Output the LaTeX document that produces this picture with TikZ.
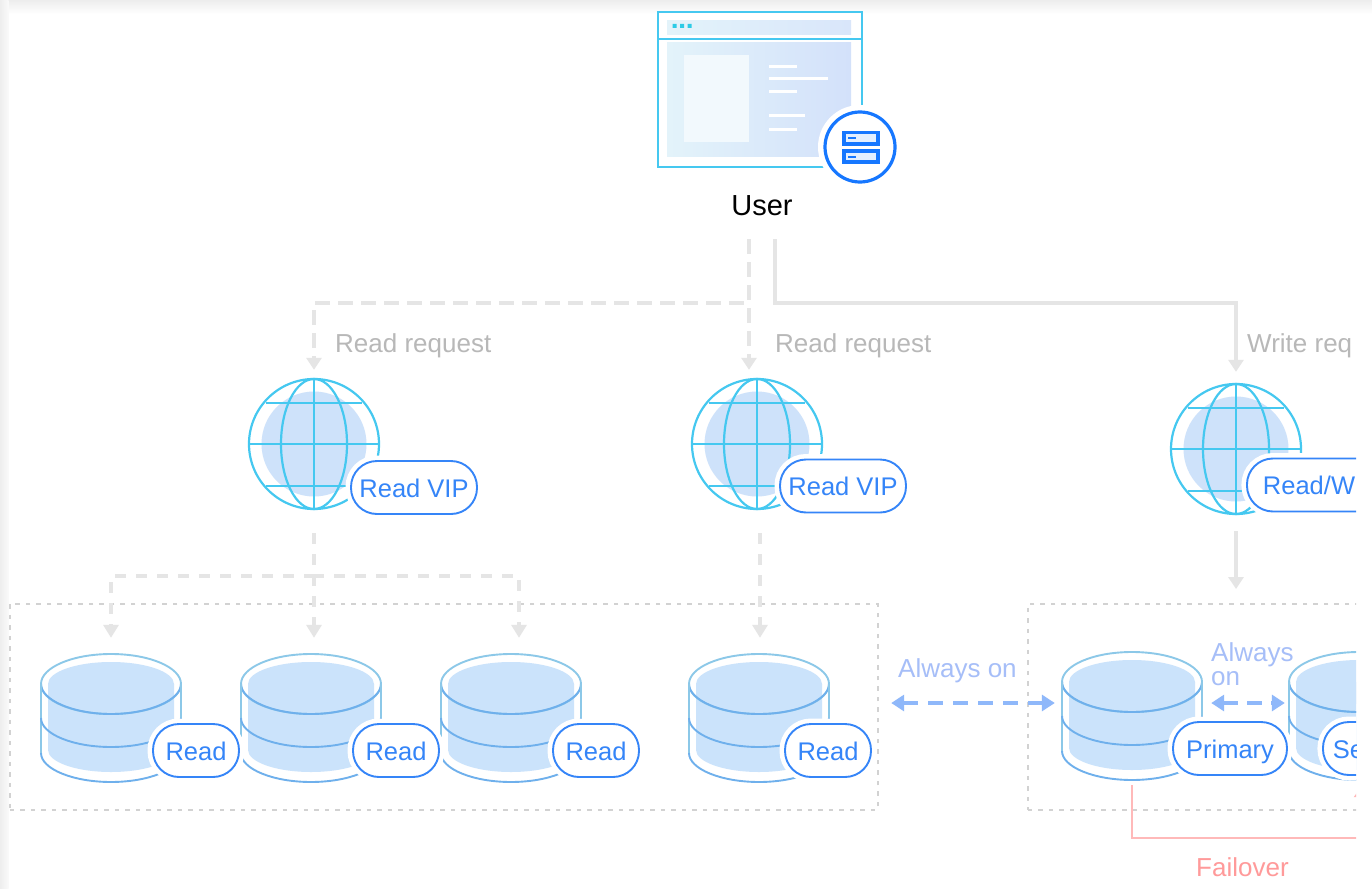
\documentclass[tikz,border=0pt]{standalone}
\usepackage{fontspec}
\setmainfont{Liberation Sans}
\usetikzlibrary{arrows.meta,shapes.geometric}
\definecolor{cyanl}{HTML}{45C8F0}
\definecolor{bluel}{HTML}{1677FF}
\definecolor{pilltx}{HTML}{3585F8}
\definecolor{dbfill}{HTML}{CBE3FB}
\definecolor{dbline}{HTML}{8CC8E8}
\definecolor{dbmid}{HTML}{6FB0EC}
\definecolor{glfill}{HTML}{CEE2FA}
\definecolor{graya}{HTML}{E5E5E5}
\definecolor{graytx}{HTML}{B8B8B8}
\definecolor{boxd}{HTML}{D2D2D2}
\definecolor{alw}{HTML}{8FB8FA}
\definecolor{alwtx}{HTML}{A6BEF8}
\definecolor{redl}{HTML}{FFB9B9}
\definecolor{redtx}{HTML}{FF9A9A}
\definecolor{brA}{HTML}{E3F3FA}
\definecolor{brB}{HTML}{D9E6FA}
\definecolor{brC}{HTML}{D3E1FA}
\definecolor{brP}{HTML}{F2F9FD}
\definecolor{brD}{HTML}{2CCBE6}
\tikzset{
  pill/.style={draw=pilltx,line width=1.9pt,fill=white,rounded corners=26pt,text=pilltx,font=\fontsize{25.5}{25.5}\selectfont,inner sep=0pt,minimum height=53pt,text height=19.5pt,text depth=0pt,preaction={draw=white,line width=11pt}},
  longpill/.style={pill,anchor=west,align=left,text width=#1},
  anchorbox/.style={inner sep=0pt,minimum size=#1},
  reqdash/.style={draw=graya,line width=3.4pt,dash pattern=on 15pt off 8pt,-{Triangle[length=12pt,width=15pt,fill=graya]}},
  treedash/.style={draw=graya,line width=3.4pt,dash pattern=on 11pt off 10pt,-{Triangle[length=13pt,width=15pt,fill=graya]}},
  reqsolid/.style={draw=graya,line width=3.6pt,-{Triangle[length=12pt,width=15pt,fill=graya]}},
  reqlabel/.style={text=graytx,font=\fontsize{26}{26}\selectfont,anchor=west,inner sep=0pt},
  groupbox/.style={draw=boxd,line width=1.8pt,dash pattern=on 4.5pt off 6pt,anchor=north west,inner sep=0pt,minimum height=206pt},
  alwarrow/.style={draw=alw,line width=3.2pt,dash pattern=on 15pt off 10pt,{Triangle[length=13pt,width=16pt,fill=alw]}-{Triangle[length=13pt,width=16pt,fill=alw]}},
  alwlabel/.style={text=alwtx,font=\fontsize{26}{26}\selectfont,anchor=west,inner sep=0pt},
  failline/.style={draw=redl,line width=2.2pt,-{Triangle[length=12pt,width=16pt,fill=redl]}},
}
% globe: #1 name, #2 x, #3 y
\newcommand{\myglobe}[3]{
  \node[anchorbox=130pt,circle] (#1) at (#2,#3) {};
  \begin{scope}[shift={(#2,#3)}]
    \fill[glfill] (0,0) circle (52.5);
    \draw[cyanl,line width=2.2pt] (0,0) circle (65);
    \draw[cyanl,line width=2.2pt] (0,0) ellipse (33 and 65);
    \draw[cyanl,line width=2.6pt] (0,-65)--(0,65);
    \draw[cyanl,line width=2.2pt] (-65,0)--(65,0) (-48,-41)--(48,-41) (-48,42)--(48,42);
  \end{scope}
}
% database: #1 name, #2 x, #3 y of top ellipse centre
\newcommand{\mydb}[3]{
  \node[inner sep=0pt,minimum width=140pt,minimum height=130pt] (#1) at (#2,{#3+33}) {};
  \begin{scope}[shift={(#2,#3)}]
    \fill[dbfill] (-63,0) -- (-63,66) .. controls (-63,78) and (-35,88) .. (0,88) .. controls (35,88) and (63,78) .. (63,66) -- (63,0) -- cycle;
    \fill[dbfill] (0,0) ellipse (63 and 22);
    \draw[dbline,line width=1.9pt] (0,0) ellipse (70 and 30);
    \draw[dbmid,line width=1.9pt] (-70,0) .. controls (-70,16) and (-38,30) .. (0,30) .. controls (38,30) and (70,16) .. (70,0);
    \draw[dbline,line width=1.9pt] (-70,0)--(-70,69) (70,0)--(70,69);
    \draw[dbmid,line width=1.9pt] (-70,34) .. controls (-70,50) and (-38,63) .. (0,63) .. controls (38,63) and (70,50) .. (70,34);
    \draw[dbmid,line width=1.9pt] (-70,69) .. controls (-70,85) and (-38,98) .. (0,98) .. controls (38,98) and (70,85) .. (70,69);
  \end{scope}
}
\begin{document}
\begin{tikzpicture}[x=1pt,y=-1pt]
\useasboundingbox (0,0) rectangle (1372,888);
\fill[white] (0,0) rectangle (1372,888);
\begin{scope}
\clip (0,0) rectangle (1372,888);
\shade[top color=black!9,bottom color=white] (0,-4) rectangle (1372,14);
\begin{scope}
\clip (0,0) rectangle (8.5,888);
\shade[left color=black!9,right color=white] (-4,0) rectangle (12,888);
\end{scope}
\end{scope}
\begin{scope}
\clip (0,0) rectangle (1356,888);

% group boxes
\node[groupbox,minimum width=868pt] (groupA) at (9,603) {};
\node[groupbox,minimum width=420pt] (groupB) at (1027,603) {};

% user browser icon
\shade[left color=brA,right color=brB] (667,21) rectangle (851,35);
\shade[left color=brA,right color=brC] (667,43) rectangle (851,156);
\fill[brP] (684,55) rectangle (749,142);
\draw[white,line width=3pt] (769,67)--(797,67) (769,79)--(828,79) (769,92)--(797,92) (769,116)--(805,116) (769,129)--(797,129);
\fill[brD] (672.5,24) rectangle (676.5,28) (680,24) rectangle (684,28) (687.5,24) rectangle (691.5,28);
\node[draw=cyanl,line width=2.2pt,inner sep=0pt,minimum width=204pt,minimum height=155pt,anchor=north west] (browser) at (657,11) {};
\draw[cyanl,line width=2.6pt] (browser.west |- 0,39)--(browser.east |- 0,39);
% badge
\fill[white] (860,147) circle (42);
\draw[bluel,line width=3.2pt] (860,147) circle (35);
\draw[bluel,line width=3.4pt,fill=bluel!12] (844,132.5) rectangle (878,144);
\draw[bluel,line width=3.4pt,fill=bluel!12] (844,151) rectangle (878,162);
\draw[bluel,line width=2pt] (848,138)--(856,138) (848,156.5)--(856,156.5);
\node[text=black,font=\fontsize{29}{29}\selectfont,inner sep=0pt] (user) at (762,206) {User};

% globes
\myglobe{g1}{314}{444}
\myglobe{g2}{757}{444}
\myglobe{g3}{1236}{449}
\node[pill,minimum width=126pt] (p1) at (414,487.5) {Read VIP};
\node[pill,minimum width=126pt] (p2) at (843,486) {Read VIP};
\node[longpill=150pt,inner xsep=16pt] (p3) at (1246,485) {Read/W};

% databases
\mydb{d1}{111}{684}
\mydb{d2}{311}{684}
\mydb{d3}{511}{684}
\mydb{d4}{759}{684}
\mydb{d5}{1132}{682}
\mydb{d6}{1359}{682}
\foreach \n/\x in {r1/196,r2/396,r3/596,r4/828}{
  \node[pill,minimum width=86pt] (\n) at (\x,750.5) {Read};
}
\node[pill,minimum width=114pt] (pr) at (1230,748.5) {Primary};
\node[longpill=100pt,inner xsep=10pt] (se) at (1322,748.5) {Se};

% requests
\coordinate (ubusL) at (749,303);
\coordinate (ubusR) at (775,303);
\draw[reqdash,shorten <=23pt,shorten >=9pt] ([xshift=-13pt]user.south) -- (ubusL) -| (g1.north);
\draw[reqdash,shorten <=23pt,shorten >=9pt] ([xshift=-13pt]user.south) -- ([xshift=-8pt]g2.north);
\draw[reqsolid,shorten <=23pt,shorten >=12pt] ([xshift=13pt]user.south) -- (ubusR) -| (g3.north);
\node[reqlabel] (l1) at (335,346) {Read request};
\node[reqlabel] (l2) at (775,346) {Read request};
\node[reqlabel] (l3) at (1247,346) {Write req};

% read trees
\coordinate (bus) at (314,576);
\draw[treedash,shorten <=24pt,shorten >=14pt] (g1.south) -- (bus) -| (d1.north);
\draw[treedash,shorten <=24pt,shorten >=14pt] (g1.south) -- (bus) -| ([xshift=8pt]d3.north);
\draw[treedash,shorten <=24pt,shorten >=14pt] (g1.south) -- ([xshift=3pt]d2.north);
\draw[treedash,shorten <=24pt,shorten >=14pt] ([xshift=3pt]g2.south) -- ([xshift=1pt]d4.north);
\draw[reqsolid,shorten <=17pt,shorten >=14pt] (g3.south) -- (groupB.north -| g3.south);

% always on
\draw[alwarrow,shorten <=62pt,shorten >=7pt] ([yshift=14pt]d4.east) -- ([yshift=12pt]d5.west);
\node[alwlabel] (a1) at (898,670.5) {Always on};
\draw[alwarrow,shorten <=9pt,shorten >=4pt,dash pattern=on 15pt off 9pt] ([yshift=12pt]d5.east) -- ([yshift=12pt]d6.west);
\node[alwlabel] (a2) at (1211,654.5) {Always};
\node[alwlabel] (a3) at (1211,679) {on};

% failover
\draw[failline,shorten <=5pt,shorten >=5pt] (d5.south) -- ++(0,-58pt) -| ([xshift=3pt]d6.south);
\node[text=redtx,font=\fontsize{26}{26}\selectfont,anchor=west,inner sep=0pt] (fo) at (1196,867) {Failover};
\end{scope}
\end{tikzpicture}
\end{document}
